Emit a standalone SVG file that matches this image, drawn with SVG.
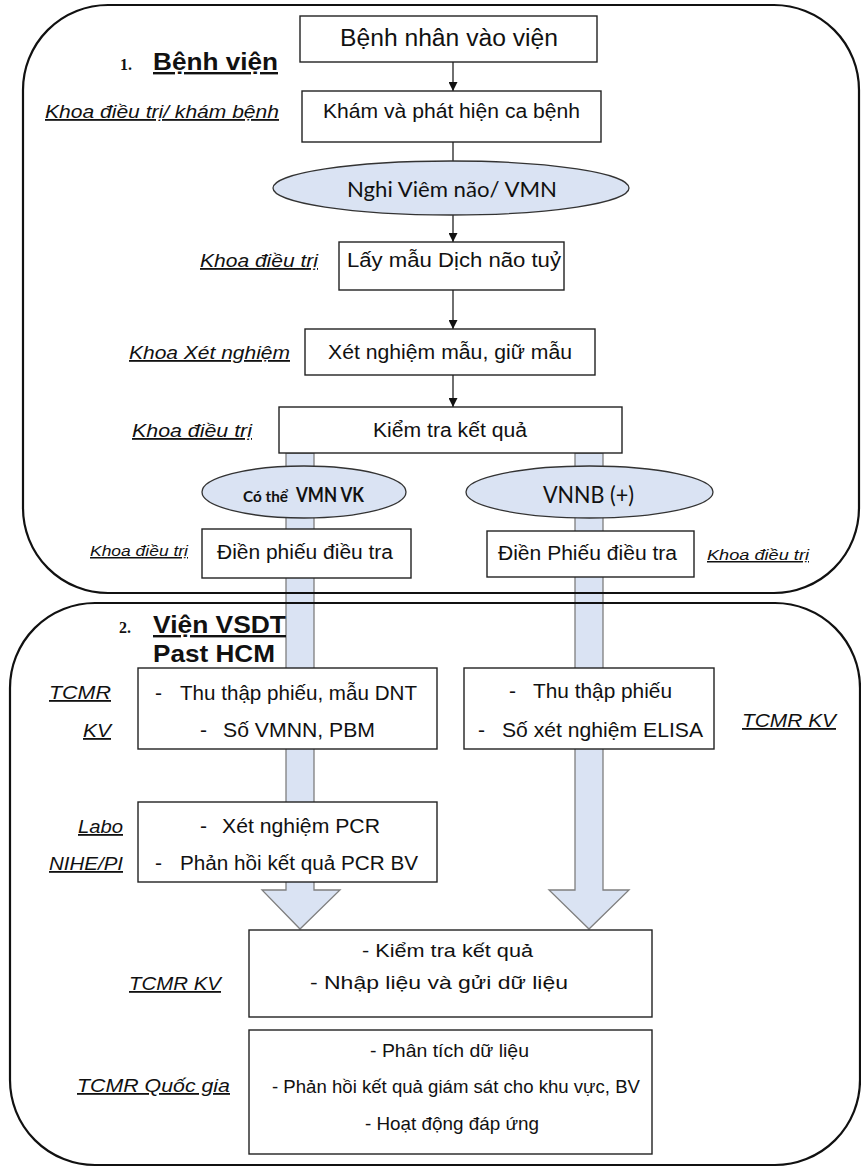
<svg xmlns="http://www.w3.org/2000/svg" width="861" height="1168" viewBox="0 0 861 1168">
<style>
.cont{fill:none;stroke:#111;stroke-width:2.2}
.box{fill:#fff;stroke:#222;stroke-width:1.4}
.ell{fill:#dae3f3;stroke:#333;stroke-width:1.3}
.blk{fill:#dae3f3;stroke:#7f7f7f;stroke-width:1.3}
.ln{stroke:#222;stroke-width:1.3;fill:none}
text{font-family:"Liberation Sans",Arial,sans-serif;fill:#111}
.t{font-size:19.5px}
.tb{font-size:23px}
.tk{font-size:21px}
.tn{font-size:19px}
.lab{font-size:18px;font-style:italic;text-decoration:underline}
.labs{font-size:15px;font-style:italic;text-decoration:underline}
.head{font-size:24px;font-weight:bold}
.num{font-family:"Liberation Serif","Times New Roman",serif;font-size:16px;font-weight:bold}
.cal{font-family:Lato,"Open Sans",sans-serif}
</style>
<defs>
<marker id="ah" viewBox="0 0 10 10" refX="10" refY="5" markerWidth="9" markerHeight="9" markerUnits="userSpaceOnUse" orient="auto">
<path d="M0,0 L10,5 L0,10 Z" fill="#111"/>
</marker>
</defs>

<g id="connectors">
<polygon class="blk" points="286,453 314,453 314,890 340,890 300,929 262,890 286,890"/>
<polygon class="blk" points="575,453 603,453 603,890 629,890 589,929 549,890 575,890"/>
<line class="ln" x1="453" y1="62" x2="453" y2="91" marker-end="url(#ah)"/>
<line class="ln" x1="453" y1="142" x2="453" y2="161"/>
<line class="ln" x1="453" y1="215" x2="453" y2="242" marker-end="url(#ah)"/>
<line class="ln" x1="453" y1="290" x2="453" y2="329" marker-end="url(#ah)"/>
<line class="ln" x1="453" y1="375" x2="453" y2="407" marker-end="url(#ah)"/>
</g>

<g id="container-benhvien">
<rect class="cont" x="23" y="5" width="836" height="588" rx="85" ry="85"/>
<text class="num" x="120" y="70">1.</text>
<text class="head" x="153" y="70" textLength="125" lengthAdjust="spacingAndGlyphs" text-decoration="underline">Bệnh viện</text>
</g>

<g id="container-vien">
<rect class="cont" x="10" y="603" width="850" height="562" rx="85" ry="85"/>
<text class="num" x="119" y="633">2.</text>
<text class="head" x="153" y="633" textLength="133" lengthAdjust="spacingAndGlyphs" text-decoration="underline">Viện VSDT</text>
<text class="head" x="153" y="662" textLength="122" lengthAdjust="spacingAndGlyphs">Past HCM</text>
</g>

<g id="n-vaovien">
<rect class="box" x="300" y="16" width="297" height="46"/>
<text class="tb" x="340" y="46" textLength="218" lengthAdjust="spacingAndGlyphs">Bệnh nhân vào viện</text>
</g>

<g id="n-kham">
<text class="lab" x="45" y="118" textLength="234" lengthAdjust="spacingAndGlyphs">Khoa điều trị/ khám bệnh</text>
<rect class="box" x="302" y="91" width="299" height="51"/>
<text class="t" x="323" y="118" textLength="257" lengthAdjust="spacingAndGlyphs">Khám và phát hiện ca bệnh</text>
</g>

<g id="n-nghi">
<ellipse class="ell" cx="451" cy="188" rx="178" ry="27"/>
<text class="cal" x="347" y="197" font-size="22" textLength="210" lengthAdjust="spacingAndGlyphs">Nghi Viêm não/ VMN</text>
</g>

<g id="n-laymau">
<text class="lab" x="200" y="267" textLength="118" lengthAdjust="spacingAndGlyphs">Khoa điều trị</text>
<rect class="box" x="339" y="242" width="225" height="48"/>
<text class="t" x="347" y="267" textLength="214" lengthAdjust="spacingAndGlyphs">Lấy mẫu Dịch não tuỷ</text>
</g>

<g id="n-xetnghiem">
<text class="lab" x="129" y="359" textLength="161" lengthAdjust="spacingAndGlyphs">Khoa Xét nghiệm</text>
<rect class="box" x="305" y="329" width="290" height="46"/>
<text class="t" x="328" y="359" textLength="244" lengthAdjust="spacingAndGlyphs">Xét nghiệm mẫu, giữ mẫu</text>
</g>

<g id="n-kiemtra">
<text class="lab" x="132" y="437" textLength="120" lengthAdjust="spacingAndGlyphs">Khoa điều trị</text>
<rect class="box" x="279" y="407" width="343" height="46"/>
<text class="t" x="373" y="437" textLength="154" lengthAdjust="spacingAndGlyphs">Kiểm tra kết quả</text>
</g>

<g id="n-vmnvk">
<ellipse class="ell" cx="304" cy="492" rx="102" ry="26"/>
<text class="cal" x="243" y="502" font-size="16" font-weight="bold" textLength="45" lengthAdjust="spacingAndGlyphs">Có thể</text>
<text class="cal" x="296" y="502" font-size="20" font-weight="bold" textLength="68" lengthAdjust="spacingAndGlyphs">VMN VK</text>
</g>

<g id="n-vnnb">
<ellipse class="ell" cx="589.5" cy="492" rx="123.5" ry="26"/>
<text class="cal" x="543" y="503" font-size="23" textLength="91" lengthAdjust="spacingAndGlyphs">VNNB (+)</text>
</g>

<g id="n-dienphieu-left">
<text class="labs" x="90" y="556" textLength="98" lengthAdjust="spacingAndGlyphs">Khoa điều trị</text>
<rect class="box" x="202" y="529" width="209" height="49"/>
<text class="t" x="217" y="559" textLength="176" lengthAdjust="spacingAndGlyphs">Điền phiếu điều tra</text>
</g>

<g id="n-dienphieu-right">
<rect class="box" x="487" y="531" width="207" height="46"/>
<text class="t" x="498" y="560" textLength="179" lengthAdjust="spacingAndGlyphs">Điền Phiếu điều tra</text>
<text class="labs" x="707" y="560" font-size="16" textLength="102" lengthAdjust="spacingAndGlyphs">Khoa điều trị</text>
</g>

<g id="n-thuthap-left">
<text class="lab" x="49" y="699" font-size="19" textLength="62" lengthAdjust="spacingAndGlyphs">TCMR</text>
<text class="lab" x="83" y="737" font-size="19" textLength="28" lengthAdjust="spacingAndGlyphs">KV</text>
<rect class="box" x="138" y="668" width="299" height="81"/>
<text class="tk" x="155" y="700">-</text>
<text class="tk" x="180" y="700" textLength="237" lengthAdjust="spacingAndGlyphs">Thu thập phiếu, mẫu DNT</text>
<text class="tk" x="200" y="737">-</text>
<text class="tk" x="223" y="737" textLength="152" lengthAdjust="spacingAndGlyphs">Số VMNN, PBM</text>
</g>

<g id="n-thuthap-right">
<rect class="box" x="464" y="668" width="250" height="81"/>
<text class="tk" x="509" y="698">-</text>
<text class="tk" x="533" y="698" textLength="139" lengthAdjust="spacingAndGlyphs">Thu thập phiếu</text>
<text class="tk" x="478" y="737">-</text>
<text class="tk" x="502" y="737" textLength="201" lengthAdjust="spacingAndGlyphs">Số xét nghiệm ELISA</text>
<text class="lab" x="742" y="727" font-size="19" textLength="94" lengthAdjust="spacingAndGlyphs">TCMR KV</text>
</g>

<g id="n-pcr">
<text class="lab" x="78" y="833" font-size="19" textLength="45" lengthAdjust="spacingAndGlyphs">Labo</text>
<text class="lab" x="49" y="870" font-size="19" textLength="74" lengthAdjust="spacingAndGlyphs">NIHE/PI</text>
<rect class="box" x="138" y="802" width="299" height="80"/>
<text class="tk" x="200" y="833">-</text>
<text class="tk" x="222" y="833" textLength="158" lengthAdjust="spacingAndGlyphs">Xét nghiệm PCR</text>
<text class="tk" x="155" y="870">-</text>
<text class="tk" x="180" y="870" textLength="238" lengthAdjust="spacingAndGlyphs">Phản hồi kết quả PCR BV</text>
</g>

<g id="n-nhaplieu">
<text class="lab" x="129" y="990" font-size="19" textLength="92" lengthAdjust="spacingAndGlyphs">TCMR KV</text>
<rect class="box" x="249" y="930" width="403" height="87"/>
<text class="tn" x="362" y="957" textLength="171" lengthAdjust="spacingAndGlyphs">- Kiểm tra kết quả</text>
<text class="tn" x="310" y="989" textLength="258" lengthAdjust="spacingAndGlyphs">- Nhập liệu và gửi dữ liệu</text>
</g>

<g id="n-quocgia">
<text class="lab" x="77" y="1092" font-size="19" textLength="153" lengthAdjust="spacingAndGlyphs">TCMR Quốc gia</text>
<rect class="box" x="249" y="1030" width="403" height="124"/>
<text class="tn" x="370" y="1057" textLength="159" lengthAdjust="spacingAndGlyphs">- Phân tích dữ liệu</text>
<text class="tn" x="272" y="1093" textLength="368" lengthAdjust="spacingAndGlyphs">- Phản hồi kết quả giám sát cho khu vực, BV</text>
<text class="tn" x="365" y="1130" textLength="174" lengthAdjust="spacingAndGlyphs">- Hoạt động đáp ứng</text>
</g>
</svg>
